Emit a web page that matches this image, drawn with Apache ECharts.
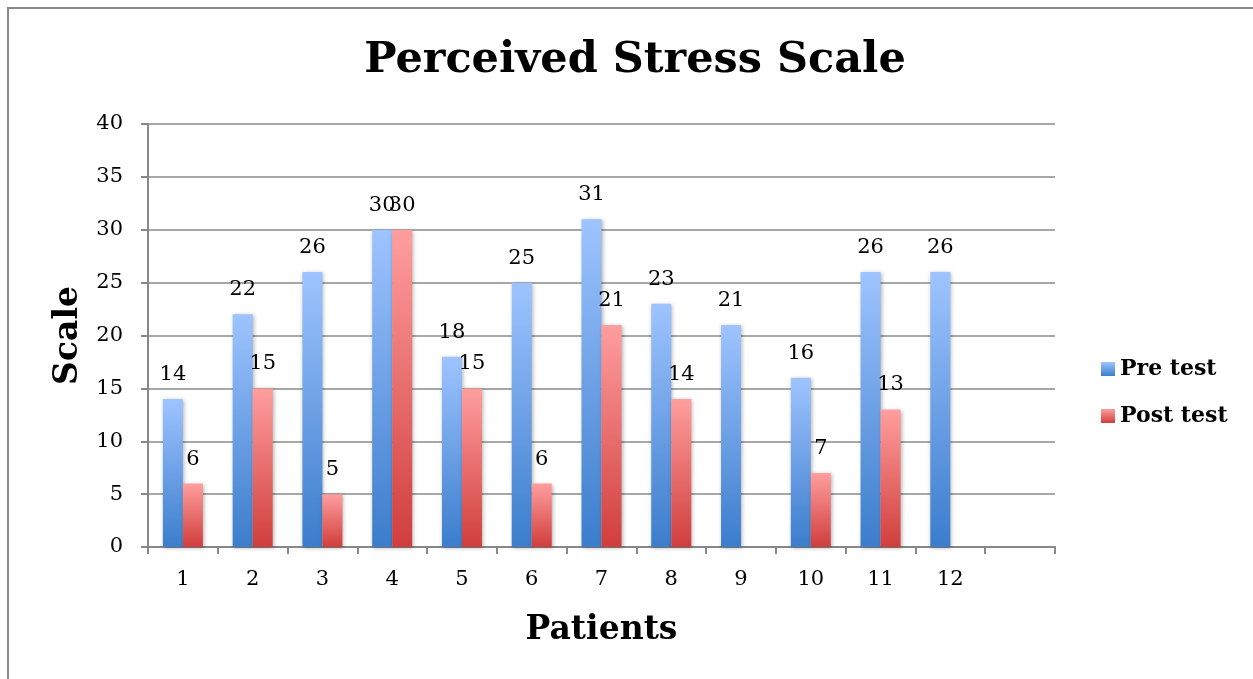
<!DOCTYPE html>
<html>
<head>
<meta charset="utf-8">
<script src="https://cdn.jsdelivr.net/npm/echarts@6/dist/echarts.min.js"></script>
<style>
html,body{margin:0;padding:0;background:#fff;overflow:hidden;width:1253px;height:679px;}
#frame{position:absolute;left:7px;top:7px;width:1300px;height:720px;border-left:2px solid #8a8a8a;border-top:2px solid #8a8a8a;box-sizing:border-box;}
#chart{position:absolute;left:0;top:0;width:1253px;height:679px;}
</style>
</head>
<body>
<div id="frame"></div>
<div id="chart"></div>
<script>
const categories = ['1','2','3','4','5','6','7','8','9','10','11','12',''];
const preTest = [14,22,26,30,18,25,31,23,21,16,26,26,null];
const postTest = [6,15,5,30,15,6,21,14,null,7,13,null,null];
const yTicks = {min:0, max:40, interval:5};

const serif = '"DejaVu Serif", "Liberation Serif", serif';
const chart = echarts.init(document.getElementById('chart'), null, {renderer:'canvas'});

function grad(top, bottom){
  return new echarts.graphic.LinearGradient(0,0,0,1,[{offset:0,color:top},{offset:1,color:bottom}]);
}
const labelStyle = {show:true, position:'top', distance:14, fontFamily:serif, fontSize:21, color:'#000'};

chart.setOption({
  animation:false,
  backgroundColor:'transparent',
  title:{
    text:'Perceived Stress Scale', left:630, top:34, textAlign:'center',
    textStyle:{fontFamily:serif, fontWeight:'bold', fontSize:43, color:'#000'}
  },
  legend:{
    orient:'vertical', left:1096, top:353, itemWidth:14, itemHeight:14, itemGap:25,
    icon:'rect',
    textStyle:{fontFamily:serif, fontWeight:'bold', fontSize:22, color:'#000'},
    data:['Pre test','Post test']
  },
  grid:{left:148, right:198, top:124, bottom:132},
  xAxis:{
    type:'category', data:categories, boundaryGap:true,
    name:'Patients', nameLocation:'middle', nameGap:67,
    nameTextStyle:{fontFamily:serif, fontWeight:'bold', fontSize:33, color:'#000'},
    axisLine:{show:true, lineStyle:{color:'#888', width:2}},
    axisTick:{show:true, length:7, lineStyle:{color:'#888', width:2}},
    axisLabel:{fontFamily:serif, fontSize:21, color:'#000', margin:22, interval:0},
    splitLine:{show:false}
  },
  yAxis:{
    type:'value', min:yTicks.min, max:yTicks.max, interval:yTicks.interval,
    name:'Scale', nameLocation:'middle', nameGap:63,
    nameTextStyle:{fontFamily:serif, fontWeight:'bold', fontSize:33, color:'#000'},
    axisLine:{show:true, lineStyle:{color:'#888', width:2}},
    axisTick:{show:true, length:7, lineStyle:{color:'#888', width:2}},
    axisLabel:{fontFamily:serif, fontSize:21, color:'#000', margin:25},
    splitLine:{show:true, lineStyle:{color:'#8a8a8a', width:1.5}}
  },
  series:[
    {
      name:'Pre test', type:'bar', data:preTest, barWidth:20, barGap:'0%',
      itemStyle:{color:grad('#9ec4ff','#3b7dcc'), shadowBlur:4, shadowColor:'rgba(0,0,0,0.3)', shadowOffsetX:1, shadowOffsetY:1},
      label:labelStyle
    },
    {
      name:'Post test', type:'bar', data:postTest, barWidth:20, barGap:'0%',
      itemStyle:{color:grad('#ff9e9e','#d03e3c'), shadowBlur:4, shadowColor:'rgba(0,0,0,0.3)', shadowOffsetX:1, shadowOffsetY:1},
      label:labelStyle
    }
  ]
});
</script>
</body>
</html>
